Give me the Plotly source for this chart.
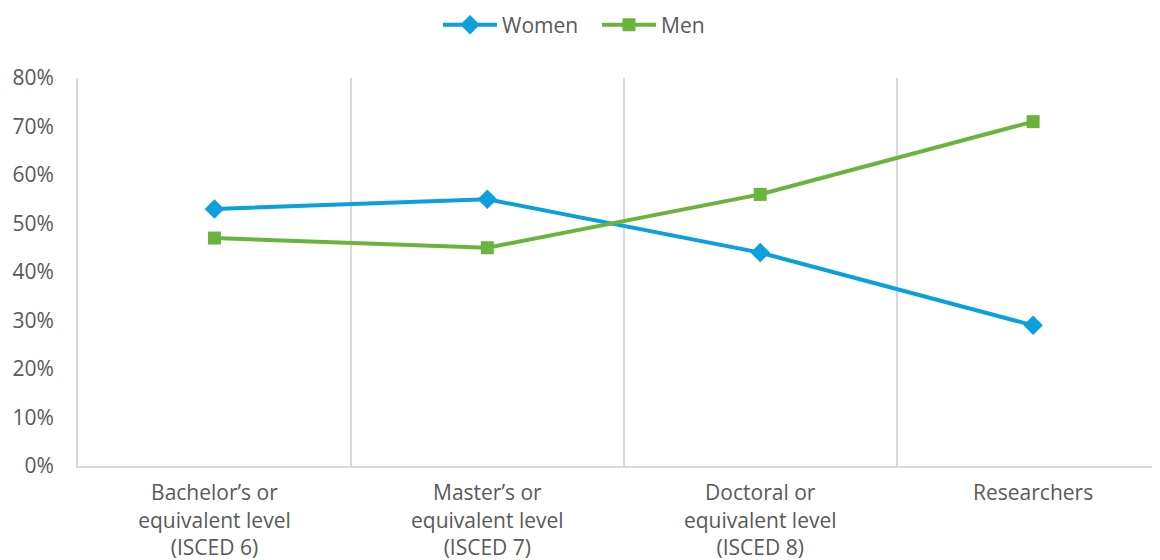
import plotly.graph_objects as go

categories = [
    "Bachelor’s or<br>equivalent level<br>(ISCED 6)",
    "Master’s or<br>equivalent level<br>(ISCED 7)",
    "Doctoral or<br>equivalent level<br>(ISCED 8)",
    "Researchers",
]
women = [0.53, 0.55, 0.44, 0.29]
men = [0.47, 0.45, 0.56, 0.71]

BLUE = "#0A9FDD"
GREEN = "#6AB43E"
FONT = "Open Sans, Noto Sans, sans-serif"

fig = go.Figure()

fig.add_trace(
    go.Scatter(
        x=categories,
        y=women,
        mode="lines+markers",
        name="Women",
        line=dict(color=BLUE, width=4),
        marker=dict(symbol="diamond", size=15, color=BLUE),
    )
)
fig.add_trace(
    go.Scatter(
        x=categories,
        y=men,
        mode="lines+markers",
        name="Men",
        line=dict(color=GREEN, width=4),
        marker=dict(symbol="square", size=13, color=GREEN),
    )
)

# page body adds an 8px offset, so the figure is 8px smaller each way
fig.update_layout(
    width=1152,
    height=552,
    margin=dict(l=70, r=0, t=70, b=94),
    plot_bgcolor="white",
    paper_bgcolor="white",
    font=dict(family=FONT, size=21, color="#595959"),
    showlegend=True,
    legend=dict(
        orientation="h",
        x=430 / 1152,
        xref="container",
        xanchor="left",
        y=1 - 17 / 552,
        yref="container",
        yanchor="middle",
        font=dict(size=21, color="#595959"),
        itemwidth=54,
        entrywidth=90,
    ),
    xaxis=dict(
        type="category",
        range=[-0.5, 3.465],
        tickson="boundaries",
        showgrid=True,
        gridcolor="#D9D9D9",
        gridwidth=2,
        showline=True,
        linecolor="#D9D9D9",
        linewidth=2,
        ticks="",
        ticklabelstandoff=7,
        tickfont=dict(size=21),
        automargin=False,
        zeroline=False,
    ),
    yaxis=dict(
        range=[0, 0.8],
        tickvals=[0, 0.1, 0.2, 0.3, 0.4, 0.5, 0.6, 0.7, 0.8],
        tickformat=".0%",
        showgrid=False,
        showline=True,
        linecolor="#D9D9D9",
        linewidth=2,
        ticks="",
        ticklabelstandoff=18,
        automargin=False,
        zeroline=False,
    ),
)

fig.write_html("out.html")
